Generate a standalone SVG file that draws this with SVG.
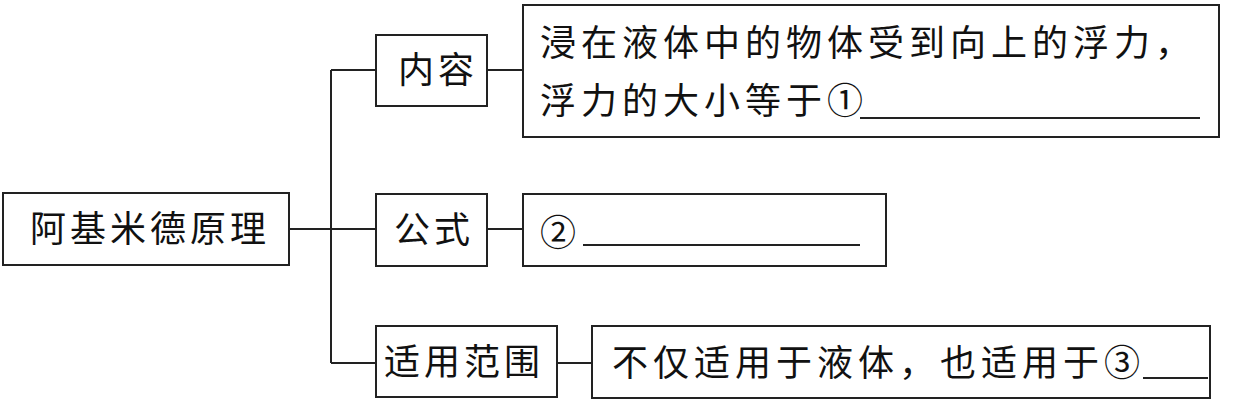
<svg xmlns="http://www.w3.org/2000/svg" width="1248" height="404" viewBox="0 0 1248 404">
<style>
.box{fill:#fff;stroke:#222;stroke-width:2}
.t{font-family:"Noto Sans CJK SC","Noto Sans",sans-serif;font-size:36px;fill:#111;letter-spacing:4px}
.w{letter-spacing:5px}
.ln{stroke:#222;stroke-width:2;fill:none}
</style>
<rect width="1248" height="404" fill="#fff"/>
<g id="connectors">
<path class="ln" d="M289 229H376M331 70V363M331 70H376M331 363H376M487 70H523M487 229H523M557 363H592"/>
</g>
<g id="root">
<rect class="box" x="3" y="193" width="286" height="72"/>
<text class="t" x="30" y="242">阿基米德原理</text>
</g>
<g id="n-content">
<rect class="box" x="376" y="35" width="111" height="71"/>
<text class="t" x="398" y="83">内容</text>
</g>
<g id="n-formula">
<rect class="box" x="376" y="194" width="111" height="72"/>
<text class="t" x="394" y="243">公式</text>
</g>
<g id="n-scope">
<rect class="box" x="376" y="326" width="181" height="71"/>
<text class="t" x="384" y="375">适用范围</text>
</g>
<g id="d-content">
<rect class="box" x="523" y="5" width="696" height="132"/>
<text class="t w" x="540" y="56">浸在液体中的物体受到向上的浮力，</text>
<text class="t w" x="540" y="114">浮力的大小等于①</text>
<path class="ln" d="M860 118H1200"/>
</g>
<g id="d-formula">
<rect class="box" x="523" y="194" width="363" height="72"/>
<text class="t" x="540" y="246">②</text>
<path class="ln" d="M583 245H860"/>
</g>
<g id="d-scope">
<rect class="box" x="592" y="326" width="618" height="72"/>
<text class="t w" x="612" y="376">不仅适用于液体，也适用于③</text>
<path class="ln" d="M1143 378H1208"/>
</g>
</svg>
